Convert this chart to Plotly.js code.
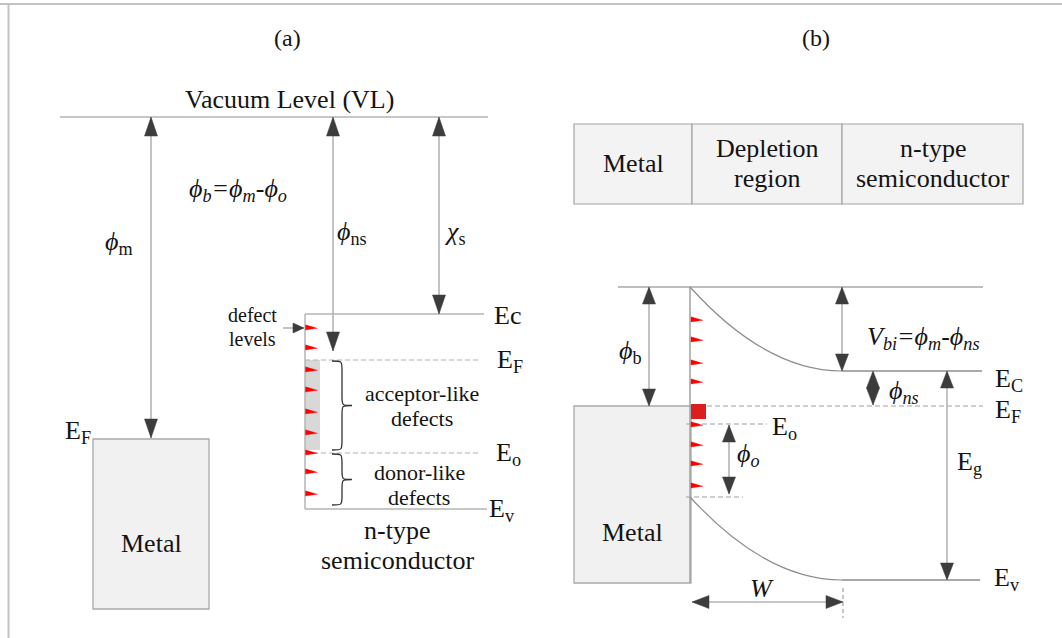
<!DOCTYPE html>
<html>
<head>
<meta charset="utf-8">
<script src="https://cdn.plot.ly/plotly-3.0.1.min.js"></script>
<style>html,body{margin:0;padding:0;background:#fff;}#chart{width:1062px;height:638px;}</style>
</head>
<body>
<div id="chart"></div>
<script>
// ---------------- Panel (a): isolated metal + n-type semiconductor ----------------
const aLevelNames   = ['VL', 'Ec', 'EF', 'Eo', 'Ev'];
const aLevelY       = [117, 314, 360, 453, 509];
const aLevelXStart  = [60, 305, 305, 305, 305];
const aLevelXEnd    = [488, 484, 480, 480, 487];
const aLevelDashed  = [false, false, true, true, false];
const aLevelLabels  = ['', 'Ec', 'E<sub>F</sub>', 'E<sub>o</sub>', 'E<sub>v</sub>'];
const aLevelLabelX  = [0, 492, 495, 494, 487];

const aArrowNames   = ['phi_m', 'phi_ns', 'chi_s'];
const aArrowX       = [151, 333, 439];
const aArrowTop     = [117, 117, 117];
const aArrowBottom  = [438, 351, 314];
const aArrowLabels  = ['<i>ϕ</i><sub>m</sub>', '<i>ϕ</i><sub>ns</sub>', '<i>χ</i><sub>s</sub>'];
const aArrowLabelX  = [119, 352, 455];
const aArrowLabelY  = [243, 233, 233];

const aMetalBox     = [93, 439, 209, 609];    // x0, y0, x1, y1
const aSemiEdgeX    = 305;
const aAcceptorBand = [305, 360, 320, 450];   // shaded acceptor-like defect band
const aDefectY      = [328, 348, 370, 390, 412, 433, 453, 472, 494];
const aBraceTop     = [361, 454];
const aBraceBottom  = [450, 505];

// ---------------- Panel (b): Schottky contact ----------------
const bLevelY       = { top: 287, Ec: 371, EF: 406, Eo: 424, low: 497, Ev: 580 };
const bInterfaceX   = 690;
const bDepletionEnd = 842;
const bRightEnd     = [983, 982, 983, 980];   // top, Ec, EF, Ev
const bMetalBox     = [574, 406, 691, 583];
const bRegionX      = [574, 692, 842, 1023];  // Metal | Depletion region | n-type semiconductor
const bRegionY      = [124, 204];
const bDefectY      = [320, 340, 363, 382, 425, 445, 464, 486];
const bChargeBox    = [691, 404, 706, 419];

const bArrowNames   = ['phi_b', 'V_bi', 'phi_ns', 'phi_o', 'E_g'];
const bArrowX       = [649, 842, 873, 729, 947];
const bArrowTop     = [287, 287, 371, 425, 371];
const bArrowBottom  = [406, 371, 405, 494, 580];
const bWidthArrow   = [692, 843, 602];        // x0, x1, y

// ---------------- drawing helpers ----------------
const FONT = '"Liberation Serif", "Times New Roman", Times, serif';
const INK = '#141414';
const SHAFT = '#b4b4b4';
const HEAD = '#3c3c3c';
const shapes = [];
const annotations = [];

function line(x0, y0, x1, y1, color, width, dash) {
  shapes.push({type: 'line', xref: 'x', yref: 'y', x0, y0, x1, y1,
    line: {color, width, dash: dash || 'solid'}});
}
function rect(x0, y0, x1, y1, fill, border, bw) {
  shapes.push({type: 'rect', xref: 'x', yref: 'y', x0, y0, x1, y1,
    fillcolor: fill, line: {color: border || fill, width: bw === undefined ? 1 : bw}});
}
function path(d, fill, color, width) {
  shapes.push({type: 'path', xref: 'x', yref: 'y', path: d,
    fillcolor: fill || 'rgba(0,0,0,0)', line: {color: color || 'rgba(0,0,0,0)', width: width || 0}});
}
function head(xt, yt, dx, dy, L, W) {
  const bx = xt - dx * L, by = yt - dy * L;
  const px = -dy * W / 2, py = dx * W / 2;
  path(`M${xt},${yt} L${bx + px},${by + py} L${bx - px},${by - py} Z`, HEAD, HEAD, 0.5);
}
const heads = [];
function arrow(x0, y0, x1, y1, L, W, startHead, endHead) {
  line(x0, y0, x1, y1, SHAFT, 1.6);
  const len = Math.hypot(x1 - x0, y1 - y0);
  const dx = (x1 - x0) / len, dy = (y1 - y0) / len;
  if (endHead) heads.push([x1, y1, dx, dy, L, W]);
  if (startHead) heads.push([x0, y0, -dx, -dy, L, W]);
}
function brace(x0, yTop, yBot, a) {
  const ym = (yTop + yBot) / 2, r = 9;
  const d = `M${x0},${yTop} C${x0 + a},${yTop} ${x0 + a},${yTop} ${x0 + a},${yTop + r} ` +
            `L${x0 + a},${ym - r} C${x0 + a},${ym} ${x0 + a},${ym} ${x0 + 2 * a},${ym} ` +
            `C${x0 + a},${ym} ${x0 + a},${ym} ${x0 + a},${ym + r} ` +
            `L${x0 + a},${yBot - r} C${x0 + a},${yBot} ${x0 + a},${yBot} ${x0},${yBot}`;
  path(d, null, '#333', 1.3);
}
function defectMark(x, y, len) {
  path(`M${x},${y - 3.2} L${x + len},${y + 0.3} L${x},${y + 2} Z`, '#ff0000', '#ff0000', 0.3);
}
function text(t, x, y, size, xanchor, opts) {
  annotations.push(Object.assign({
    text: t, x, y, xref: 'x', yref: 'y', showarrow: false,
    xanchor: xanchor || 'center', yanchor: 'middle',
    font: {family: FONT, size, color: INK}
  }, opts || {}));
}

// ---------------- frame ----------------
shapes.push({type: 'line', xref: 'paper', yref: 'paper', x0: 0, x1: 1, y0: 1 - 4 / 638, y1: 1 - 4 / 638,
  line: {color: '#c3c3c3', width: 2}});
shapes.push({type: 'line', xref: 'paper', yref: 'paper', x0: 8.5 / 1062, x1: 8.5 / 1062, y0: 0, y1: 1 - 4 / 638,
  line: {color: '#c3c3c3', width: 2}});

// ---------------- panel (a) ----------------
text('(a)', 287, 38, 24);
text('Vacuum Level (VL)', 289, 99, 26);

rect(aAcceptorBand[0], aAcceptorBand[1], aAcceptorBand[2], aAcceptorBand[3], '#d8d8d8', '#d8d8d8', 0);
aLevelY.forEach((y, i) => {
  line(aLevelXStart[i], y, aLevelXEnd[i], y, aLevelDashed[i] ? '#b0b0b0' : '#b4b4b4', aLevelDashed[i] ? 1.2 : 1.5,
       aLevelDashed[i] ? '5px,3px' : 'solid');
  if (aLevelLabels[i]) text(aLevelLabels[i], aLevelLabelX[i], y + 1, 26, 'left');
});
line(aSemiEdgeX, aLevelY[1], aSemiEdgeX, aLevelY[4], '#b4b4b4', 1.5);

rect(aMetalBox[0], aMetalBox[1], aMetalBox[2], aMetalBox[3], '#f1f1f1', '#a9a9a9', 1.3);
text('Metal', (aMetalBox[0] + aMetalBox[2]) / 2, 543, 26);
text('E<sub>F</sub>', 63, 432, 26, 'left');

aArrowX.forEach((x, i) => {
  arrow(x, aArrowTop[i], x, aArrowBottom[i], 19, 13, true, true);
  text(aArrowLabels[i], aArrowLabelX[i], aArrowLabelY[i], 26);
});
text('<i>ϕ<sub>b</sub>=ϕ<sub>m</sub>-ϕ<sub>o</sub></i>', 238, 190, 26);

// defect levels pointer
arrow(283, aDefectY[0], 304, aDefectY[0], 11, 10, false, true);
text('defect', 252, 315, 20);
text('levels', 252, 339, 20);
aDefectY.forEach(y => defectMark(aSemiEdgeX + 0.5, y, 12));

brace(332, aBraceTop[0], aBraceBottom[0], 10);
brace(332, aBraceTop[1], aBraceBottom[1], 10);
text('acceptor-like', 422, 393, 22);
text('defects', 422, 418, 22);
text('donor-like', 419, 472, 22);
text('defects', 419, 497, 22);
text('n-type', 397, 530, 26);
text('semiconductor', 397, 560, 26);

// ---------------- panel (b) ----------------
text('(b)', 816, 38, 24);
for (let i = 0; i < 3; i++) {
  rect(bRegionX[i], bRegionY[0], bRegionX[i + 1], bRegionY[1], '#f3f3f3', '#a4a4a4', 1.2);
}
text('Metal', (bRegionX[0] + bRegionX[1]) / 2, 163, 26);
text('Depletion', (bRegionX[1] + bRegionX[2]) / 2, 148, 26);
text('region', (bRegionX[1] + bRegionX[2]) / 2, 178, 26);
text('n-type', (bRegionX[2] + bRegionX[3]) / 2, 148, 26);
text('semiconductor', (bRegionX[2] + bRegionX[3]) / 2, 178, 26);

rect(bMetalBox[0], bMetalBox[1], bMetalBox[2], bMetalBox[3], '#f1f1f1', '#a9a9a9', 1.3);
text('Metal', (bMetalBox[0] + bMetalBox[2]) / 2, 532, 26);

const BAND = '#8c8c8c';
line(618, bLevelY.top, bRightEnd[0], bLevelY.top, '#a8a8a8', 1.3);
line(bInterfaceX, bLevelY.top, bInterfaceX, bMetalBox[3], '#a0a0a0', 1.5);
// band bending (parabolic, drawn as quadratic Bezier through the axis scale)
const ctrlX = (bInterfaceX + bDepletionEnd) / 2;
path(`M${bInterfaceX},${bLevelY.top} Q${ctrlX},${bLevelY.Ec} ${bDepletionEnd},${bLevelY.Ec}`, null, BAND, 1.2);
path(`M${bInterfaceX},${bLevelY.low} Q${ctrlX},${bLevelY.Ev} ${bDepletionEnd},${bLevelY.Ev}`, null, BAND, 1.2);
line(bDepletionEnd, bLevelY.Ec, bRightEnd[1], bLevelY.Ec, BAND, 1.3);
line(bDepletionEnd, bLevelY.Ev, bRightEnd[3], bLevelY.Ev, BAND, 1.3);
line(707, bLevelY.EF, bRightEnd[2], bLevelY.EF, '#a0a0a0', 1.2, '5px,3px');
line(686, bLevelY.Eo, 767, bLevelY.Eo, '#a0a0a0', 1.2, '5px,3px');
line(686, bLevelY.low, 743, bLevelY.low, '#a0a0a0', 1.2, '5px,3px');
line(bWidthArrow[1], 588, bWidthArrow[1], 618, '#a0a0a0', 1.2, '4px,3px');

bDefectY.forEach(y => defectMark(bInterfaceX + 1, y, 12));
rect(bChargeBox[0], bChargeBox[1], bChargeBox[2], bChargeBox[3], '#dc1e1e', '#dc1e1e', 0);

bArrowX.forEach((x, i) => arrow(x, bArrowTop[i], x, bArrowBottom[i], 17, 13, true, true));
arrow(bWidthArrow[0], bWidthArrow[2], bWidthArrow[1], bWidthArrow[2], 17, 13, true, true);

text('<i>ϕ</i><sub>b</sub>', 630, 352, 26);
text('<i>V<sub>bi</sub>=ϕ<sub>m</sub>-ϕ<sub>ns</sub></i>', 923, 338, 26);
text('<i>ϕ<sub>ns</sub></i>', 904, 392, 26);
text('<i>ϕ<sub>o</sub></i>', 748, 455, 26);
text('E<sub>C</sub>', 993, 380, 26, 'left');
text('E<sub>F</sub>', 993, 411, 26, 'left');
text('E<sub>o</sub>', 770, 428, 26, 'left');
text('E<sub>g</sub>', 955, 463, 26, 'left');
text('E<sub>v</sub>', 992, 579, 26, 'left');
text('<i>W</i>', 762, 588, 26);

// arrowheads on top of shafts
heads.forEach(h => head(...h));

const layout = {
  width: 1062, height: 638,
  margin: {l: 0, r: 0, t: 0, b: 0, pad: 0},
  paper_bgcolor: '#ffffff', plot_bgcolor: '#ffffff',
  showlegend: false,
  xaxis: {range: [0, 1062], visible: false, fixedrange: true},
  yaxis: {range: [638, 0], visible: false, fixedrange: true},
  shapes, annotations
};
Plotly.newPlot('chart', [{type: 'scatter', x: [], y: [], hoverinfo: 'skip'}], layout,
  {staticPlot: true, displayModeBar: false});
</script>
</body>
</html>
